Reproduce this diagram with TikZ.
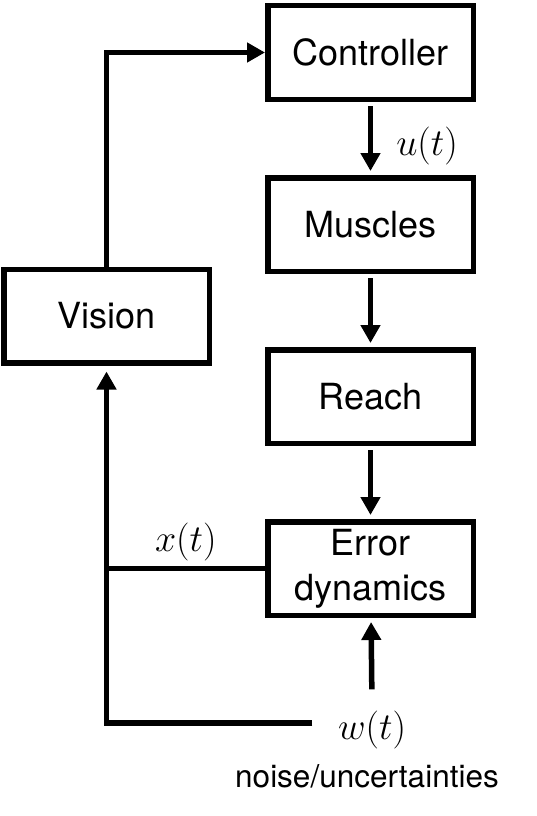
\RequirePackage{fix-cm}
\documentclass[tikz,border=0pt]{standalone}
\usepackage{amsmath}
\usepackage{fontspec}
\setmainfont{TeX Gyre Heros}
\usepackage{tikz}
\usetikzlibrary{arrows.meta}

\begin{document}
\begin{tikzpicture}[x=1pt,y=-1pt,line width=5.5pt,
  arr/.style={-{Triangle[width=19pt,length=18pt]}}]

    \tikzstyle{block} = [draw,rectangle,minimum width=205.5pt,minimum height=93.5pt,align=center,font=\fontsize{36}{45}\selectfont]
    \tikzstyle{lbl} = [inner sep=3pt,font=\fontsize{38}{44}\selectfont]

  \useasboundingbox (0,0) rectangle (537,816);

  \node[block] (ctl) at (370.5,52.5) {Controller};
  \node[block] (mus) at (370.5,224.5) {Muscles};
  \node[block] (rch) at (370.5,396.5) {Reach};
  \node[block] (err) at (370.5,568.5) {Error\\dynamics};
  \node[block] (vis) at (106.5,316) {Vision};

  \node[lbl] (wt) at (372,730) {$w(t)$};
  \node[font=\fontsize{31.5}{36}\selectfont] (noise) at (367,776) {noise/uncertainties};

  \draw[arr,shorten <=4pt,shorten >=4pt] (ctl) -- node[right=20pt,lbl,yshift=-7pt] {$u(t)$} (mus);
  \draw[arr,shorten <=4pt,shorten >=4pt] (mus) -- (rch);
  \draw[arr,shorten <=4pt,shorten >=4pt] (rch) -- (err);
  \draw[arr,shorten <=16pt,shorten >=4pt] (wt.north) -- (err);

  \draw[arr,shorten <=20pt,shorten >=6pt] ([yshift=7pt]wt.west) -| (vis);
  \draw (err.west) -- node[above,lbl,yshift=2pt] {$x(t)$} (err.west -| vis);
  \draw[arr] (vis) |- (ctl);

\end{tikzpicture}
\end{document}
